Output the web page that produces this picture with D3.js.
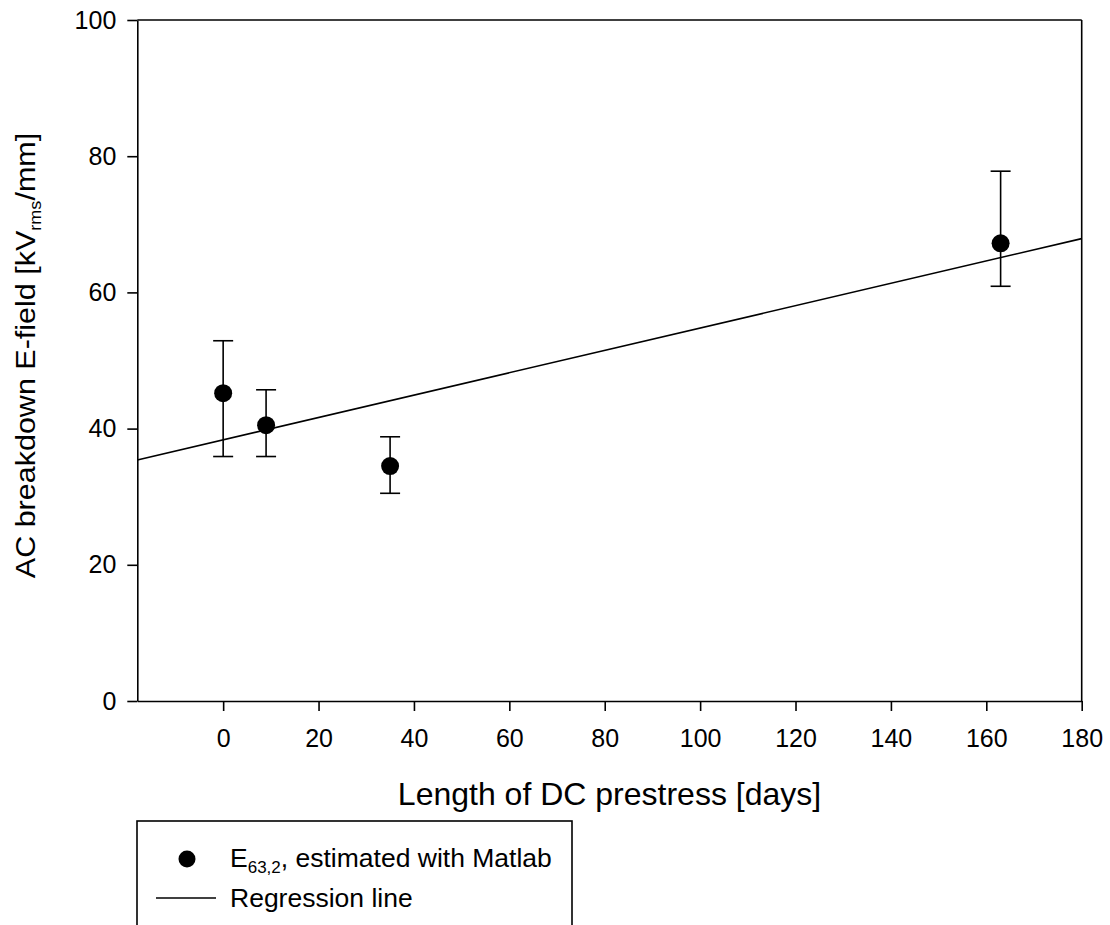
<!DOCTYPE html>
<html>
<head>
<meta charset="utf-8">
<script src="https://cdn.jsdelivr.net/npm/d3@7"></script>
<style>
  body { margin: 0; background: #fff; }
  svg { display: block; }
  text { font-family: "Liberation Sans", Arial, sans-serif; fill: #000; }
</style>
</head>
<body>
<svg id="chart" width="1110" height="925"></svg>
<script>
// ---- data ----
const days      = [0, 9, 35, 163];
const fieldMean = [45.2, 40.5, 34.5, 67.2];
const fieldLow  = [35.9, 35.9, 30.5, 60.9];
const fieldHigh = [52.9, 45.7, 38.8, 77.8];
const regX      = [-18, 180];
const regY      = [35.4, 67.9];
const xTicks    = [0, 20, 40, 60, 80, 100, 120, 140, 160, 180];
const yTicks    = [0, 20, 40, 60, 80, 100];
const xDomain   = [-18, 180];
const yDomain   = [0, 100];

const svg = d3.select("#chart");
const L = 137.3, R = 1081.7, T = 20, B = 701;

const x = d3.scaleLinear().domain(xDomain).range([L, R]);
const y = d3.scaleLinear().domain(yDomain).range([B, T]);

const sw = 1.6;

// axes
const xAxis = d3.axisBottom(x).tickValues(xTicks).tickSize(10).tickSizeOuter(0).tickPadding(18);
const yAxis = d3.axisLeft(y).tickValues(yTicks).tickSize(10).tickSizeOuter(0).tickPadding(11);

const gx = svg.append("g").attr("transform", `translate(0,${B})`).call(xAxis);
const gy = svg.append("g").attr("transform", `translate(${L},0)`).call(yAxis);
[gx, gy].forEach(g => {
  g.select(".domain").attr("stroke", "#000").attr("stroke-width", sw);
  g.selectAll(".tick line").attr("stroke", "#000").attr("stroke-width", sw);
  g.selectAll(".tick text").attr("font-size", 25).attr("font-family", "Liberation Sans, Arial, sans-serif").attr("fill", "#000");
});

// top and right frame
svg.append("line").attr("x1", L).attr("x2", R).attr("y1", y(yDomain[1])).attr("y2", y(yDomain[1]))
  .attr("stroke", "#000").attr("stroke-width", sw);
svg.append("line").attr("x1", x(xDomain[1])).attr("x2", x(xDomain[1])).attr("y1", T).attr("y2", B)
  .attr("stroke", "#000").attr("stroke-width", sw);

// regression line
svg.append("line")
  .attr("x1", x(regX[0])).attr("y1", y(regY[0]))
  .attr("x2", x(regX[1])).attr("y2", y(regY[1]))
  .attr("stroke", "#000").attr("stroke-width", 1.6);

// error bars
const pts = days.map((d, i) => ({d, m: fieldMean[i], lo: fieldLow[i], hi: fieldHigh[i]}));
const eb = svg.append("g").attr("stroke", "#000").attr("stroke-width", 1.6);
pts.forEach(p => {
  eb.append("line").attr("x1", x(p.d)).attr("x2", x(p.d)).attr("y1", y(p.lo)).attr("y2", y(p.hi));
  eb.append("line").attr("x1", x(p.d) - 10).attr("x2", x(p.d) + 10).attr("y1", y(p.lo)).attr("y2", y(p.lo));
  eb.append("line").attr("x1", x(p.d) - 10).attr("x2", x(p.d) + 10).attr("y1", y(p.hi)).attr("y2", y(p.hi));
});

// points
svg.append("g").selectAll("circle").data(pts).join("circle")
  .attr("cx", p => x(p.d)).attr("cy", p => y(p.m)).attr("r", 9).attr("fill", "#000");

// axis titles
svg.append("text").attr("x", (L + R) / 2).attr("y", 805).attr("text-anchor", "middle")
  .attr("font-size", 32).text("Length of DC prestress [days]");

const yl = svg.append("text").attr("transform", `translate(35,${(T + B) / 2 - 5}) rotate(-90) scale(1.13,1)`)
  .attr("text-anchor", "middle").attr("font-size", 27);
yl.append("tspan").text("AC breakdown E-field [kV");
yl.append("tspan").attr("font-size", 16).attr("dy", 6).text("rms");
yl.append("tspan").attr("dy", -6).text("/mm]");

// legend
svg.append("rect").attr("x", 137).attr("y", 821).attr("width", 435).attr("height", 130)
  .attr("fill", "none").attr("stroke", "#000").attr("stroke-width", sw);
svg.append("circle").attr("cx", 187).attr("cy", 859).attr("r", 8.5).attr("fill", "#000");
const lt1 = svg.append("text").attr("x", 230).attr("y", 867).attr("font-size", 26.5);
lt1.append("tspan").text("E");
lt1.append("tspan").attr("font-size", 17).attr("dy", 6).text("63,2");
lt1.append("tspan").attr("dy", -6).text(", estimated with Matlab");
svg.append("line").attr("x1", 156).attr("x2", 216).attr("y1", 898).attr("y2", 898)
  .attr("stroke", "#000").attr("stroke-width", 1.6);
svg.append("text").attr("x", 230).attr("y", 907).attr("font-size", 26.5).text("Regression line");
</script>
</body>
</html>
